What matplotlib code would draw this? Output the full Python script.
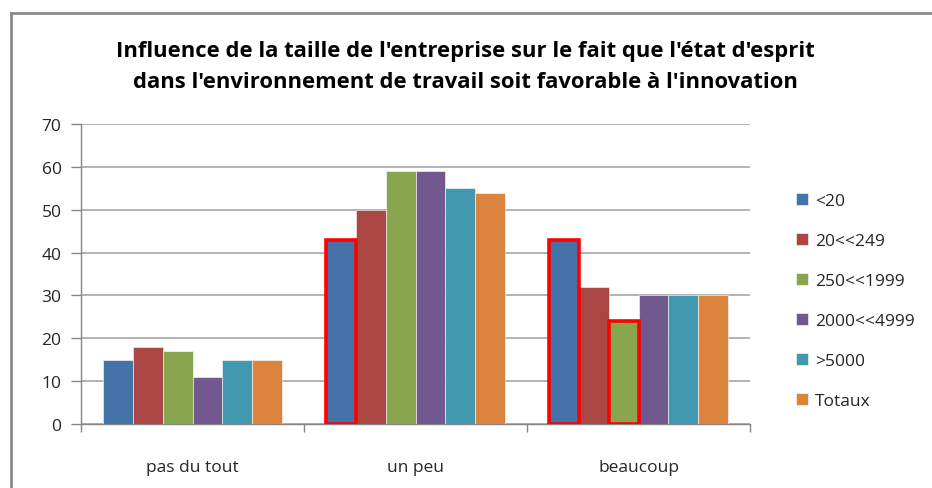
import matplotlib
matplotlib.use("Agg")
import matplotlib.pyplot as plt
import numpy as np
from matplotlib.lines import Line2D
from matplotlib.patches import Patch

plt.rcParams["font.family"] = ["Open Sans", "DejaVu Sans"]

categories = ["pas du tout", "un peu", "beaucoup"]
series = ["<20", "20<<249", "250<<1999", "2000<<4999", ">5000", "Totaux"]
values = [
    [15, 43, 43],   # <20
    [18, 50, 32],   # 20<<249
    [17, 59, 24],   # 250<<1999
    [11, 59, 30],   # 2000<<4999
    [15, 55, 30],   # >5000
    [15, 54, 30],   # Totaux
]
colors = ["#4572A7", "#AA4643", "#89A54E", "#71588F", "#4198AF", "#DB843D"]
# (series index, category index) of the bars circled in red
highlighted = [(0, 1), (0, 2), (2, 2)]

W, H = 932, 489
fig = plt.figure(figsize=(W / 100, H / 100), dpi=100)
ax = fig.add_axes([81 / W, 1 - 425 / H, (750 - 81) / W, (425 - 125) / H])

n = len(series)
bw = 1 / 7.5
x = np.arange(len(categories))
for i, (name, vals) in enumerate(zip(series, values)):
    pos = x - n * bw / 2 + bw * (i + 0.5)
    bars = ax.bar(pos, vals, width=bw, color=colors[i], edgecolor="white",
                  linewidth=0.4, zorder=3)
    for s, c in highlighted:
        if s == i:
            b = bars[c]
            b.set_edgecolor("#ff0000")
            b.set_linewidth(2.6)
            b.set_zorder(4)

ax.set_xlim(-0.5, len(categories) - 0.5)
ax.set_ylim(0, 70)
ax.set_yticks(range(0, 71, 10))
ax.yaxis.grid(True, color="#a6a6a6", linewidth=1.2, zorder=0)
ax.set_axisbelow(True)

ax.set_xticks(x)
ax.set_xticklabels(categories)
ax.set_xticks(np.arange(-0.5, len(categories), 1), minor=True)
ax.tick_params(axis="x", which="major", length=0, pad=25, labelsize=12.5,
               labelcolor="#262626")
ax.tick_params(axis="x", which="minor", length=6, color="#868686", width=1)
ax.tick_params(axis="y", length=7, color="#868686", width=1, pad=7,
               labelsize=12.5, labelcolor="#262626")

for side in ["top", "right"]:
    ax.spines[side].set_visible(False)
for side in ["left", "bottom"]:
    ax.spines[side].set_color("#868686")
    ax.spines[side].set_linewidth(1)

fig.text(465 / W, 1 - 67 / H,
         "Influence de la taille de l'entreprise sur le fait que l'état d'esprit\n"
         "dans l'environnement de travail soit favorable à l'innovation",
         ha="center", va="center", fontsize=15.8, fontweight="bold",
         linespacing=1.6, color="black")

handles = [Patch(facecolor=c, edgecolor="white", linewidth=0.4) for c in colors]
fig.legend(handles, series, loc="upper left",
           bbox_to_anchor=(780 / W, 1 - 178 / H), frameon=False,
           fontsize=12.5, handlelength=0.7, handleheight=0.7,
           handletextpad=0.4, labelspacing=1.38, labelcolor="#262626")

# chart frame (gray, only top and left visible in the crop)
fig.add_artist(Line2D([11 / W, 1], [1 - 14 / H, 1 - 14 / H],
                      color="#8c8c8c", linewidth=2, transform=fig.transFigure))
fig.add_artist(Line2D([11 / W, 11 / W], [0, 1 - 14 / H],
                      color="#8c8c8c", linewidth=2, transform=fig.transFigure))

fig.savefig("out.png", dpi=100)
